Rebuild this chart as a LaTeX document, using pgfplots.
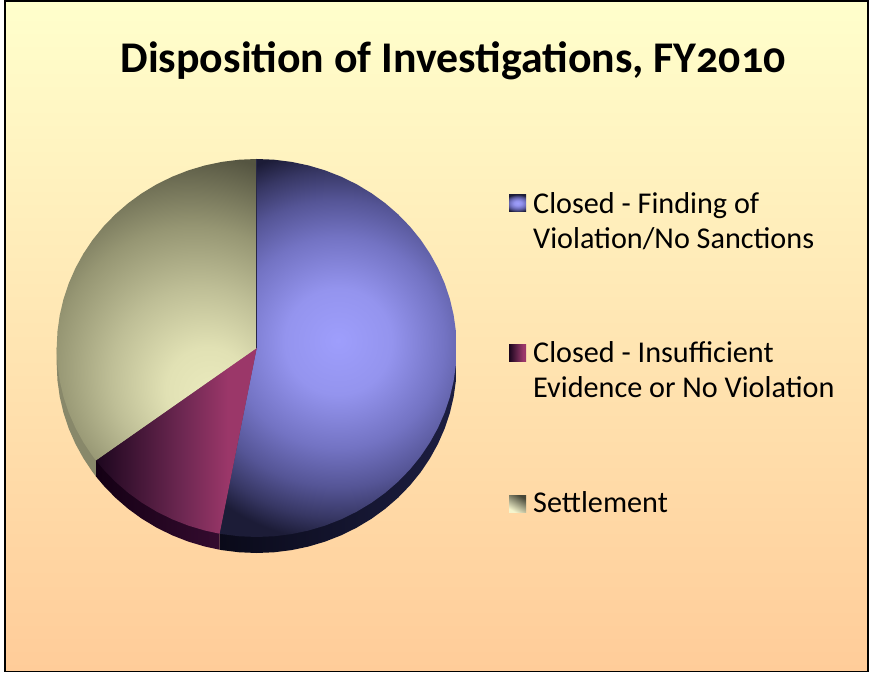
\documentclass[border=0pt]{standalone}
\usepackage{fontspec}
\setmainfont[Numbers=OldStyle]{Carlito}
\usepackage{pgfplots}
\pgfplotsset{compat=1.18}
\definecolor{bgtop}{RGB}{255,255,204}
\definecolor{bgbot}{RGB}{255,204,153}
\definecolor{b0}{RGB}{158,158,252}
\definecolor{b1}{RGB}{148,148,238}
\definecolor{b2}{RGB}{115,115,195}
\definecolor{b3}{RGB}{85,85,150}
\definecolor{b4}{RGB}{55,55,100}
\definecolor{b5}{RGB}{28,28,55}
\pgfdeclareradialshading{bluepie}{\pgfpoint{0bp}{1bp}}{%
 color(0bp)=(b0); color(7bp)=(b1); color(14bp)=(b2); color(19bp)=(b3); color(23bp)=(b4); color(26bp)=(b5); color(50bp)=(b5)}
\definecolor{m0}{RGB}{28,6,30}
\definecolor{m1}{RGB}{110,40,82}
\definecolor{m2}{RGB}{155,55,105}
\pgfdeclarehorizontalshading{maroonpie}{100bp}{%
 color(0bp)=(m0); color(25bp)=(m0); color(52bp)=(m1); color(66bp)=(m2); color(100bp)=(m2)}
\definecolor{s0}{RGB}{235,235,190}
\definecolor{s1}{RGB}{225,225,180}
\definecolor{s2}{RGB}{190,190,150}
\definecolor{s3}{RGB}{150,150,115}
\definecolor{s4}{RGB}{85,85,65}
\pgfdeclareradialshading{settlepie}{\pgfpoint{9.7bp}{-15bp}}{%
 color(0bp)=(s0); color(7bp)=(s1); color(15bp)=(s2); color(23bp)=(s3); color(33bp)=(s4); color(60bp)=(s4)}
\definecolor{bs0}{RGB}{10,10,25}
\definecolor{bs1}{RGB}{28,30,65}
\definecolor{ms0}{RGB}{20,0,20}
\definecolor{ms1}{RGB}{62,15,55}
\definecolor{sside}{RGB}{136,136,106}
\definecolor{sepline}{RGB}{40,40,70}
\definecolor{sw0}{RGB}{70,70,55}
\definecolor{sw1}{RGB}{245,245,205}
\begin{document}
\begin{tikzpicture}
\path[fill=white] (0pt,0pt) rectangle (869pt,674pt);
\shade[top color=bgtop,bottom color=bgbot,draw=black,line width=1.6pt] (4.8pt,2.5pt) rectangle (868pt,673.2pt);
\begin{axis}[
  at={(0pt,0pt)},anchor=south west,scale only axis,width=869pt,height=674pt,
  xmin=-1.2835,xmax=3.0615,ymin=-1.7249,ymax=1.8413,
  hide axis,clip=false,
  title={\bfseries\fontsize{43.8}{48}\selectfont Disposition of Investigations, FY2010},
  title style={at={(0.5213,0.8828)},anchor=base,inner sep=0pt,yshift=0pt},
  legend cell align=left,
  legend style={at={(0.5857,0.7181)},anchor=north west,draw=none,fill=none,inner sep=0pt,
     row sep=123pt,font=\fontsize{30.2}{35}\selectfont},
]
% sides of the disc
\addplot[forget plot,draw=none,left color=bs0,right color=bs1] coordinates {
(0,0)(1,0)(1,-.0847)(.9962,-.1719)(.9848,-.2583)(.9659,-.3435)(.9397,-.4267)(.9063,-.5073)(.8660,-.5847)(.8192,-.6583)(.7660,-.7275)(.7071,-.7918)(.6428,-.8507)(.5736,-.9039)(.5,-.9507)(.4226,-.9910)(.3420,-1.0244)(.2588,-1.0506)(.1736,-1.0695)(.0872,-1.0809)(0,-1.0847)(-.0872,-1.0809)(-.1736,-1.0695)(-.1857,-1.0673)(-.1857,-.9826)(0,0)};
\addplot[forget plot,draw=none,left color=ms0,right color=ms1] coordinates {
(0,0)(-.1857,-.9826)(-.1857,-1.0673)(-.2588,-1.0506)(-.3420,-1.0244)(-.4226,-.9910)(-.5,-.9507)(-.5736,-.9039)(-.6428,-.8507)(-.7071,-.7918)(-.7660,-.7275)(-.8039,-.6795)(-.8039,-.5948)(0,0)};
\addplot[forget plot,draw=none,fill=sside] coordinates {
(0,0)(-.8039,-.5948)(-.8039,-.6795)(-.8192,-.6583)(-.8660,-.5847)(-.9063,-.5073)(-.9397,-.4267)(-.9659,-.3435)(-.9848,-.2583)(-.9962,-.1719)(-1,-.0847)(-1,0)(0,0)};
% faces of the disc
\addplot[draw=none,/utils/exec={\pgfsetadditionalshadetransform{\pgftransformxscale{1.6}}},shading=bluepie,
  legend image code/.code={\shade[shading=bluepie] (0pt,-8.5pt) rectangle (17pt,8.5pt);}] coordinates {
(0,0)(0,1)(.0872,.9962)(.1736,.9848)(.2588,.9659)(.3420,.9397)(.4226,.9063)(.5,.8660)(.5736,.8192)(.6428,.7660)(.7071,.7071)(.7660,.6428)(.8192,.5736)(.8660,.5)(.9063,.4226)(.9397,.3420)(.9659,.2588)(.9848,.1736)(.9962,.0872)(1,0)(.9962,-.0872)(.9848,-.1736)(.9659,-.2588)(.9397,-.3420)(.9063,-.4226)(.8660,-.5)(.8192,-.5736)(.7660,-.6428)(.7071,-.7071)(.6428,-.7660)(.5736,-.8192)(.5,-.8660)(.4226,-.9063)(.3420,-.9397)(.2588,-.9659)(.1736,-.9848)(.0872,-.9962)(0,-1)(-.0872,-.9962)(-.1736,-.9848)(-.1857,-.9826)(0,0)};
\addlegendentry{\parbox[t]{320pt}{\hspace*{5pt}Closed - Finding of\\\hspace*{5pt}Violation/No Sanctions}}
\addplot[draw=none,shading=maroonpie,
  legend image code/.code={\shade[shading=maroonpie] (0pt,-8.5pt) rectangle (17pt,8.5pt);}] coordinates {
(0,0)(-.1857,-.9826)(-.2588,-.9659)(-.3420,-.9397)(-.4226,-.9063)(-.5,-.8660)(-.5736,-.8192)(-.6428,-.7660)(-.7071,-.7071)(-.7660,-.6428)(-.8039,-.5948)(0,0)};
\addlegendentry{\parbox[t]{320pt}{\hspace*{5pt}Closed - Insufficient\\\hspace*{5pt}Evidence or No Violation}}
\addplot[draw=none,/utils/exec={\pgfsetadditionalshadetransform{\pgftransformxscale{1.5}}},shading=settlepie,
  legend image code/.code={\shade[top color=sw0,bottom color=sw1,shading angle=-30] (0pt,-8.5pt) rectangle (17pt,8.5pt);}] coordinates {
(0,0)(-.8039,-.5948)(-.8192,-.5736)(-.8660,-.5)(-.9063,-.4226)(-.9397,-.3420)(-.9659,-.2588)(-.9848,-.1736)(-.9962,-.0872)(-1,0)(-.9962,.0872)(-.9848,.1736)(-.9659,.2588)(-.9397,.3420)(-.9063,.4226)(-.8660,.5)(-.8192,.5736)(-.7660,.6428)(-.7071,.7071)(-.6428,.7660)(-.5736,.8192)(-.5,.8660)(-.4226,.9063)(-.3420,.9397)(-.2588,.9659)(-.1736,.9848)(-.0872,.9962)(0,1)(0,0)};
\addlegendentry{\raisebox{3pt}{\hspace*{5pt}Settlement}}
\addplot[forget plot,sepline,line width=0.9pt] coordinates {(0,1)(0,0)};
\end{axis}
\end{tikzpicture}
\end{document}
